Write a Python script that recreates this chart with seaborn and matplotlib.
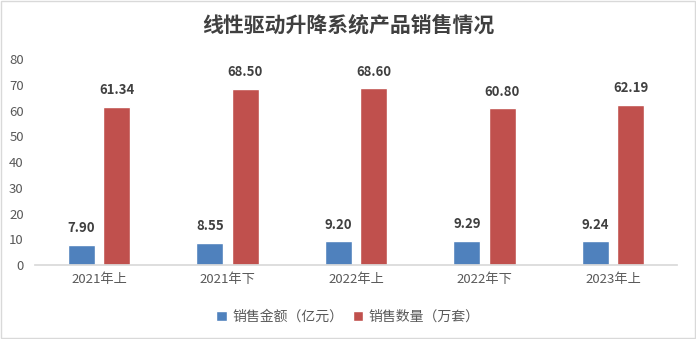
import matplotlib
matplotlib.use("Agg")
import matplotlib.pyplot as plt
import seaborn as sns
import pandas as pd
from matplotlib.patches import Rectangle

categories = ["2021年上", "2021年下", "2022年上", "2022年下", "2023年上"]
sales_amount = [7.90, 8.55, 9.20, 9.29, 9.24]
sales_volume = [61.34, 68.50, 68.60, 60.80, 62.19]
series_names = ["销售金额（亿元）", "销售数量（万套）"]
colors = ["#4F81BD", "#C0504D"]

df = pd.DataFrame({
    "period": categories * 2,
    "series": [series_names[0]] * len(categories) + [series_names[1]] * len(categories),
    "value": sales_amount + sales_volume,
})

sns.set_theme(style="white")
plt.rcParams["font.family"] = ["Noto Sans CJK SC", "DejaVu Sans"]

fig = plt.figure(figsize=(6.96, 3.39), dpi=100)
ax = fig.add_axes([0.050, 0.218, 0.923, 0.608])

sns.barplot(data=df, x="period", y="value", hue="series", order=categories,
            hue_order=series_names, palette=colors, width=0.55, gap=0.23,
            saturation=1, ax=ax, legend=True)

for container in ax.containers:
    ax.bar_label(container, fmt="%.2f", padding=7, fontsize=9.5,
                 fontweight="semibold", color="#404040")

ax.set_ylim(0, 80)
ax.set_yticks(range(0, 81, 10))
ax.set_xlim(-0.5, len(categories) - 0.5)
ax.set_xlabel("")
ax.set_ylabel("")
for s in ["top", "right", "left"]:
    ax.spines[s].set_visible(False)
ax.spines["bottom"].set_color("#D9D9D9")
ax.tick_params(axis="y", length=0, labelsize=9.5, labelcolor="#595959", pad=8)
ax.tick_params(axis="x", length=0, labelsize=9.5, labelcolor="#595959", pad=6)

# category separator ticks on the baseline
ax.set_xticks([i + 0.5 for i in range(-1, len(categories))], minor=True)
ax.tick_params(axis="x", which="minor", length=5, color="#D9D9D9", direction="out")

handles, labels = ax.get_legend_handles_labels()
ax.legend_.remove()
fig.legend(handles, labels, loc="center", bbox_to_anchor=(0.5, 0.065), ncol=2,
           frameon=False, fontsize=10, handlelength=0.75, handleheight=0.75,
           handletextpad=0.4, columnspacing=0.7, labelcolor="#595959")

fig.text(0.5, 0.925, "线性驱动升降系统产品销售情况", ha="center", va="center",
         fontsize=15, fontweight="bold", color="#404040")

fig.patches.append(Rectangle((0.001, 0.002), 0.997, 0.995, transform=fig.transFigure,
                             fill=False, edgecolor="#D9D9D9", linewidth=1))

fig.savefig("out.png", dpi=100)
